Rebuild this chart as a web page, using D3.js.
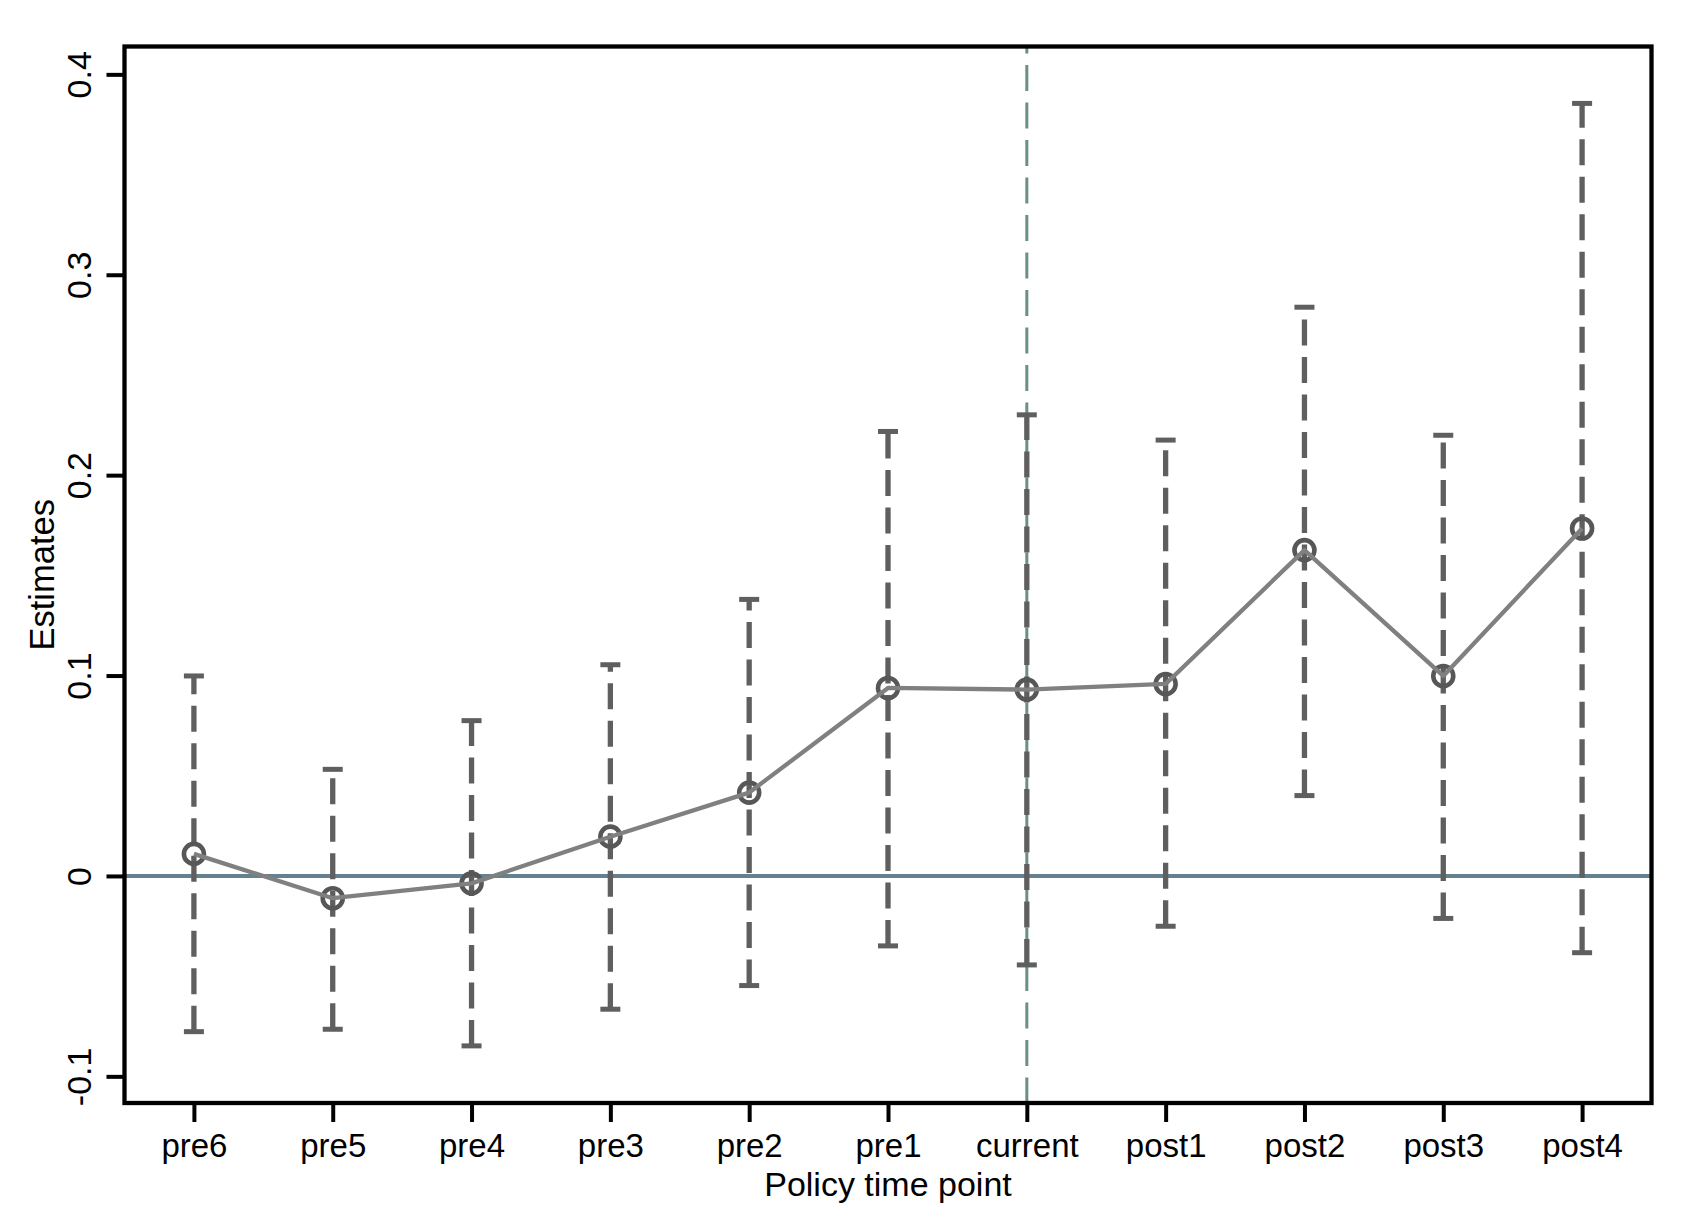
<!DOCTYPE html>
<html>
<head>
<meta charset="utf-8">
<script src="https://cdn.jsdelivr.net/npm/d3@7"></script>
<style>
  html, body { margin: 0; padding: 0; background: #fff; }
  svg { display: block; }
  text { font-family: "Liberation Sans", Arial, sans-serif; fill: #000; }
</style>
</head>
<body>
<svg id="chart" width="1702" height="1218"></svg>
<script>
const categories = ["pre6","pre5","pre4","pre3","pre2","pre1","current","post1","post2","post3","post4"];
const estimates  = [0.0110, -0.0111, -0.0037, 0.0196, 0.0416, 0.0938, 0.0930, 0.0958, 0.1626, 0.0998, 0.1734];
const ciLower    = [-0.0777, -0.0765, -0.0848, -0.0665, -0.0547, -0.0349, -0.0444, -0.0251, 0.0401, -0.0212, -0.0383];
const ciUpper    = [0.0998, 0.0532, 0.0775, 0.1054, 0.1380, 0.2218, 0.2301, 0.2175, 0.2838, 0.2199, 0.3855];
const yTicks      = [-0.1, 0, 0.1, 0.2, 0.3, 0.4];
const yTickLabels = ["-0.1", "0", "0.1", "0.2", "0.3", "0.4"];
const xTitle = "Policy time point";
const yTitle = "Estimates";
const eventCategory = "current";

const W = 1702, H = 1218;
const margin = { left: 124.5, right: W - 1651.5, top: 46.5, bottom: H - 1103 };
const svg = d3.select("#chart");

const x = d3.scaleLinear().domain([0.5, categories.length + 0.5]).range([margin.left, W - margin.right]);
const y = d3.scaleLinear().domain([-0.1133, 0.4139]).range([H - margin.bottom, margin.top]);

const data = categories.map((c, i) => ({ c, pos: i + 1, est: estimates[i], lo: ciLower[i], hi: ciUpper[i] }));

// reference lines (behind)
svg.append("line")
  .attr("x1", x.range()[0]).attr("x2", x.range()[1])
  .attr("y1", y(0)).attr("y2", y(0))
  .attr("stroke", "#64818f").attr("stroke-width", 4);

const evPos = categories.indexOf(eventCategory) + 1;
svg.append("line")
  .attr("x1", x(evPos)).attr("x2", x(evPos))
  .attr("y1", y.range()[1]).attr("y2", y.range()[0])
  .attr("stroke", "#6a8f86").attr("stroke-width", 3)
  .attr("stroke-dasharray", "26 11.5").attr("stroke-dashoffset", 19);

// error bars (drawn from lower to upper)
const ebColor = "#5f5f5f";
const eb = svg.append("g");
eb.selectAll("line.bar").data(data).join("line").attr("class", "bar")
  .attr("x1", d => x(d.pos)).attr("x2", d => x(d.pos))
  .attr("y1", d => y(d.lo)).attr("y2", d => y(d.hi))
  .attr("stroke", ebColor).attr("stroke-width", 5.3)
  .attr("stroke-dasharray", "26 11.5");
eb.selectAll("line.capl").data(data).join("line").attr("class", "capl")
  .attr("x1", d => x(d.pos) - 10).attr("x2", d => x(d.pos) + 10)
  .attr("y1", d => y(d.lo)).attr("y2", d => y(d.lo))
  .attr("stroke", ebColor).attr("stroke-width", 5);
eb.selectAll("line.caph").data(data).join("line").attr("class", "caph")
  .attr("x1", d => x(d.pos) - 10).attr("x2", d => x(d.pos) + 10)
  .attr("y1", d => y(d.hi)).attr("y2", d => y(d.hi))
  .attr("stroke", ebColor).attr("stroke-width", 5);

// markers
svg.append("g").selectAll("circle").data(data).join("circle")
  .attr("cx", d => x(d.pos)).attr("cy", d => y(d.est))
  .attr("r", 10).attr("fill", "none")
  .attr("stroke", "#575757").attr("stroke-width", 4.6);

// connecting line
svg.append("path").datum(data)
  .attr("d", d3.line().x(d => x(d.pos)).y(d => y(d.est)))
  .attr("fill", "none").attr("stroke", "#808080").attr("stroke-width", 4.3)
  .attr("stroke-linejoin", "round");

// frame
svg.append("rect")
  .attr("x", x.range()[0]).attr("y", y.range()[1])
  .attr("width", x.range()[1] - x.range()[0])
  .attr("height", y.range()[0] - y.range()[1])
  .attr("fill", "none").attr("stroke", "#000").attr("stroke-width", 4.3);

// x axis
const xAxis = d3.axisBottom(x)
  .tickValues(data.map(d => d.pos))
  .tickFormat((d, i) => categories[i])
  .tickSize(19).tickSizeOuter(0).tickPadding(12);
const gx = svg.append("g").attr("transform", `translate(0,${y.range()[0]})`).call(xAxis);
gx.select(".domain").remove();
gx.selectAll(".tick line").attr("stroke", "#000").attr("stroke-width", 4);
gx.selectAll(".tick text").attr("font-size", 33).attr("font-family", "Liberation Sans, Arial, sans-serif")
  .attr("dy", null).attr("y", 54).attr("fill", "#000");

// y axis
const yAxis = d3.axisLeft(y)
  .tickValues(yTicks)
  .tickFormat((d, i) => yTickLabels[i])
  .tickSize(18).tickSizeOuter(0);
const gy = svg.append("g").attr("transform", `translate(${x.range()[0]},0)`).call(yAxis);
gy.select(".domain").remove();
gy.selectAll(".tick line").attr("stroke", "#000").attr("stroke-width", 4);
gy.selectAll(".tick text")
  .attr("font-size", 34).attr("font-family", "Liberation Sans, Arial, sans-serif")
  .attr("x", null).attr("dy", null)
  .attr("text-anchor", "middle")
  .attr("transform", `translate(${91 - x.range()[0]},0) rotate(-90)`)
  .attr("fill", "#000");

// titles
svg.append("text")
  .attr("x", (x.range()[0] + x.range()[1]) / 2).attr("y", 1196)
  .attr("text-anchor", "middle").attr("font-size", 34)
  .text(xTitle);
svg.append("text")
  .attr("transform", `translate(54,${(y.range()[0] + y.range()[1]) / 2}) rotate(-90)`)
  .attr("text-anchor", "middle").attr("font-size", 34.5)
  .text(yTitle);
</script>
</body>
</html>
